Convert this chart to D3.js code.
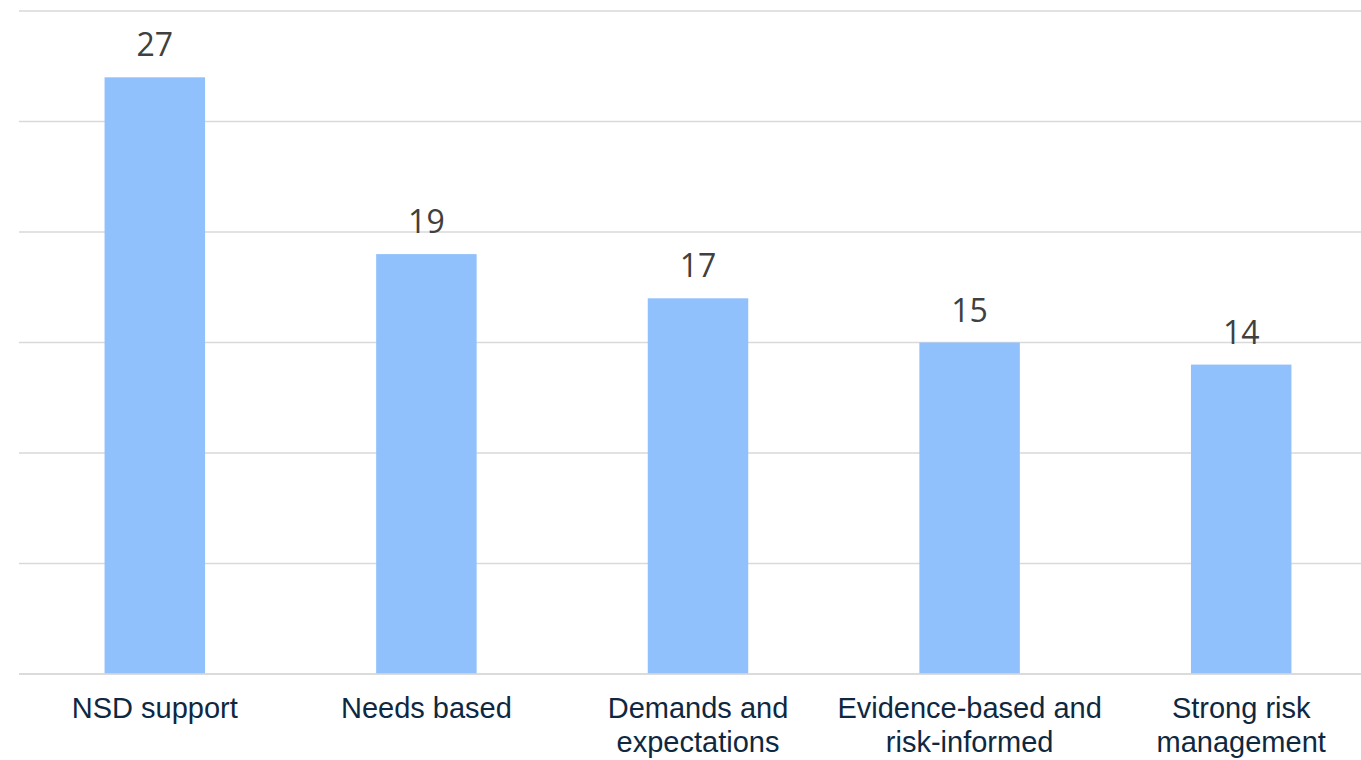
<!DOCTYPE html>
<html><head><meta charset="utf-8">
<script src="https://cdn.jsdelivr.net/npm/d3@7"></script>
<style>html,body{margin:0;padding:0;background:#fff;overflow:hidden}</style>
</head><body>
<svg id="chart" width="1361" height="760"></svg>
<script>
const categories = [["NSD support"],["Needs based"],["Demands and","expectations"],["Evidence-based and","risk-informed"],["Strong risk","management"]];
const categoryKeys = ["NSD support","Needs based","Demands and expectations","Evidence-based and risk-informed","Strong risk management"];
const values = [27,19,17,15,14];
const yTicks = [0,5,10,15,20,25,30];

const svg = d3.select("#chart");
const x = d3.scaleBand().domain(categoryKeys).range([19,1377]).paddingInner(0.63).paddingOuter(0.315);
const y = d3.scaleLinear().domain([0,30]).range([674,11]);

svg.append("g").selectAll("line").data(yTicks).join("line")
  .attr("x1",19).attr("x2",1377)
  .attr("y1",d=>y(d)).attr("y2",d=>y(d))
  .attr("stroke","#d9d9d9").attr("stroke-width",1.5);

svg.append("g").selectAll("rect").data(values).join("rect")
  .attr("x",(d,i)=>x(categoryKeys[i]))
  .attr("width",x.bandwidth())
  .attr("y",d=>y(d))
  .attr("height",d=>y(0)-y(d))
  .attr("fill","#91c1fd");

// redraw baseline on top
svg.append("line").attr("x1",19).attr("x2",1377).attr("y1",y(0)).attr("y2",y(0))
  .attr("stroke","#d9d9d9").attr("stroke-width",1.5);

svg.append("g").selectAll("text").data(values).join("text")
  .attr("x",(d,i)=>x(categoryKeys[i])+x.bandwidth()/2)
  .attr("y",d=>y(d)-21)
  .attr("text-anchor","middle")
  .attr("font-family","'Open Sans', sans-serif")
  .attr("font-size",32)
  .attr("fill","#404040")
  .text(d=>d);

const lab = svg.append("g").selectAll("text").data(categories).join("text")
  .attr("x",(d,i)=>x(categoryKeys[i])+x.bandwidth()/2)
  .attr("y",718)
  .attr("text-anchor","middle")
  .attr("font-family","'Liberation Sans', Arial, sans-serif")
  .attr("font-size",29)
  .attr("fill","#0e2841");
lab.each(function(d,i){
  const t=d3.select(this);
  d.forEach((line,j)=>{
    t.append("tspan").attr("x",x(categoryKeys[i])+x.bandwidth()/2).attr("dy",j===0?0:34).text(line);
  });
});
</script>
</body></html>
